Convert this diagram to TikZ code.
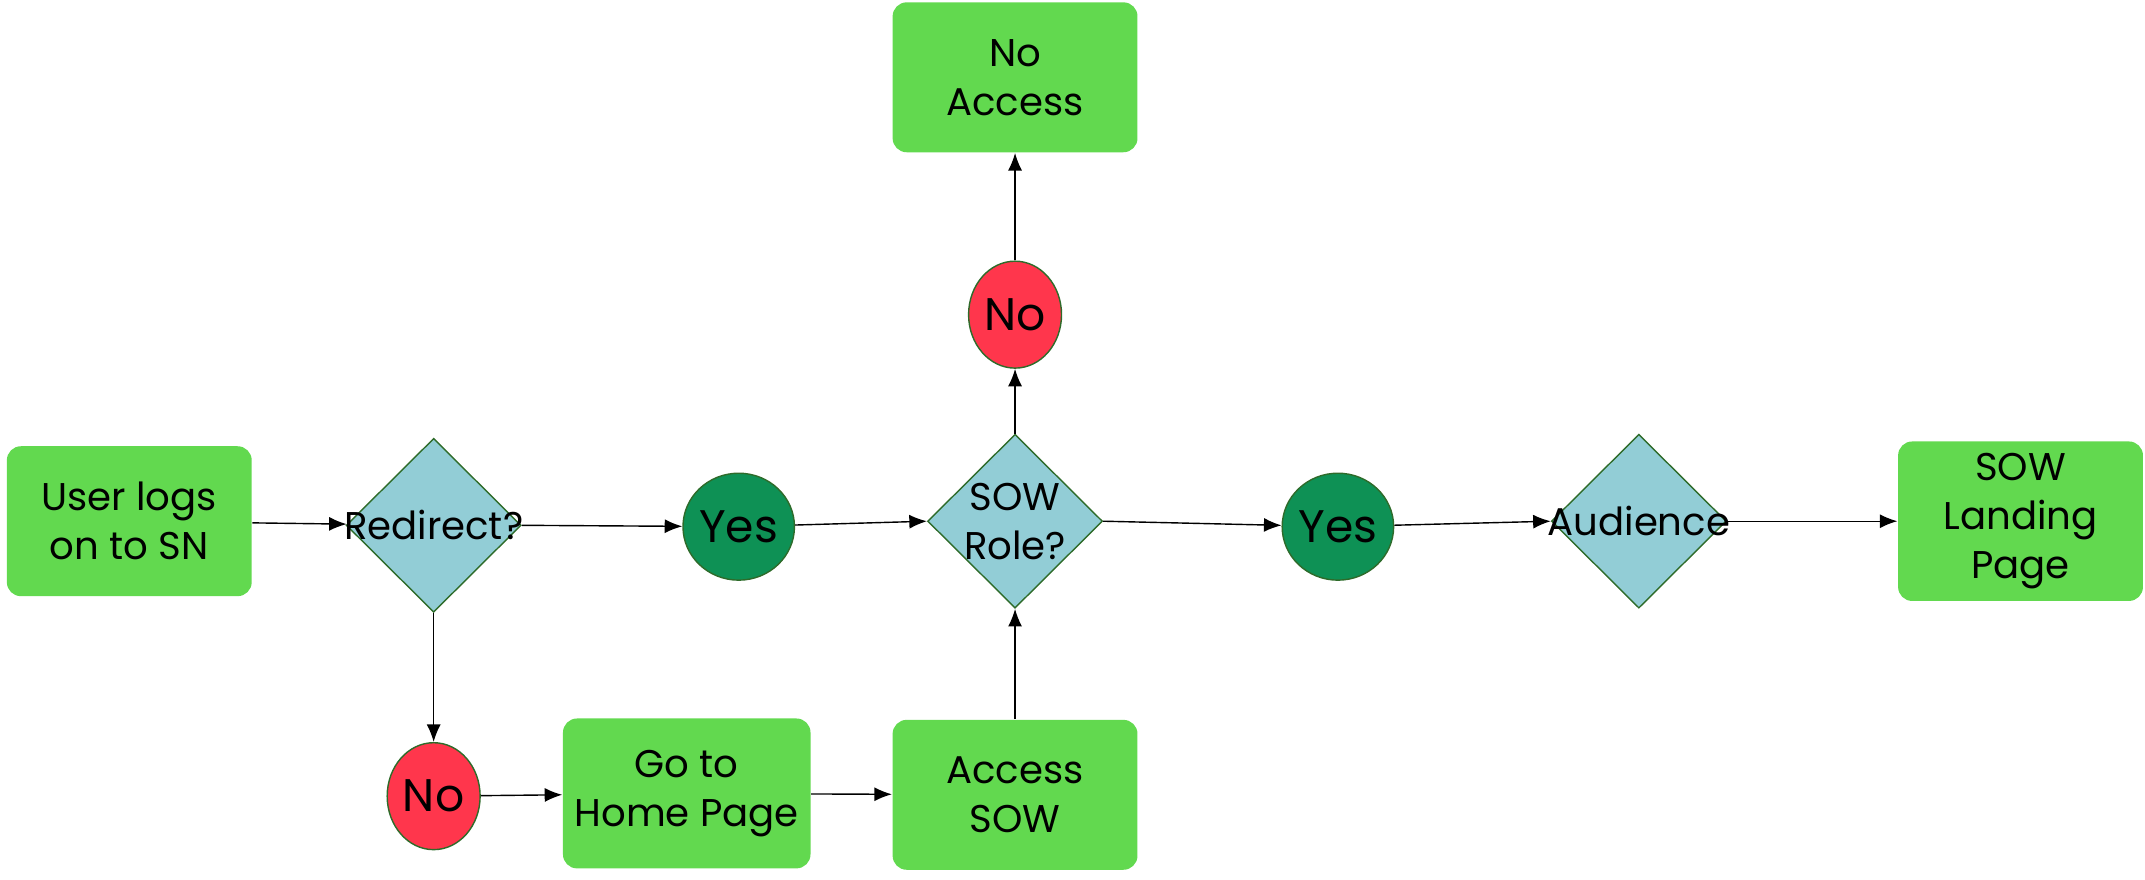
\documentclass[tikz,border=0pt]{standalone}
\usepackage{fontspec}
\setmainfont{Poppins}
\usetikzlibrary{arrows.meta,shapes.geometric}
\definecolor{boxgreen}{HTML}{62D94F}
\definecolor{decblue}{HTML}{92CDD6}
\definecolor{decline}{HTML}{2E6B2A}
\definecolor{nored}{HTML}{FF364C}
\definecolor{yesgreen}{HTML}{0E9155}
\tikzset{
    stepbox/.style={rectangle, fill=boxgreen, rounded corners=4pt, minimum width=2.45cm, minimum height=1.5cm, align=center, font=\fontsize{11}{14}\selectfont},
    decision/.style={diamond, fill=decblue, draw=decline, thin, minimum width=1.75cm, minimum height=1.74cm, inner sep=0pt, font=\fontsize{11}{14}\selectfont},
    answer/.style={ellipse, draw=decline, thin, minimum width=0.93cm, minimum height=1.07cm, inner sep=0pt, font=\fontsize{13}{15}\selectfont},
    flow/.style={-{Latex[length=5pt,width=4pt]}, thin}
}
\begin{document}
\begin{tikzpicture}[x=0.01368cm, y=-0.01368cm]
        \useasboundingbox (0, 0) rectangle (1568, 643);
        \node[stepbox] (user) at (94.5, 381) {User logs\\on to SN};
        \node[decision, label={[font=\fontsize{11}{14}\selectfont]center:Redirect?}] (redirect) at (317, 384) {};
        \node[answer, fill=yesgreen] (yes_redirect) at (540, 385) {Yes};
        \node[decision, label={[align=center, font=\fontsize{11}{14}\selectfont]center:SOW\\Role?}] (role) at (742, 381) {};
        \node[answer, fill=nored] (no_role) at (742, 230) {No};
        \node[stepbox] (no_access) at (742, 56.5) {No\\Access};
        \node[answer, fill=yesgreen] (yes_role) at (978, 385) {Yes};
        \node[decision, label={[font=\fontsize{11}{14}\selectfont]center:Audience}] (audience) at (1198, 381) {};
        \node[stepbox] (landing) at (1477, 381) {SOW\\Landing\\Page};
        \node[answer, fill=nored] (no_redirect) at (317, 582) {No};
        \node[stepbox] (home) at (502, 580) {Go to\\Home Page};
        \node[stepbox] (access) at (742, 581) {Access\\SOW};

        \draw[flow] (user) -- (redirect);
        \draw[flow] (redirect.east) -- (yes_redirect);
        \draw[flow] (yes_redirect) -- (role.west);
        \draw[flow] (role.north) -- (no_role);
        \draw[flow] (no_role) -- (no_access);
        \draw[flow] (role.east) -- (yes_role);
        \draw[flow] (yes_role) -- (audience.west);
        \draw[flow] (audience.east) -- (landing);
        \draw[flow] (redirect.south) -- (no_redirect);
        \draw[flow] (no_redirect) -- (home);
        \draw[flow] (home) -- (access);
        \draw[flow] (access) -- (role.south);
    \end{tikzpicture}
\end{document}
